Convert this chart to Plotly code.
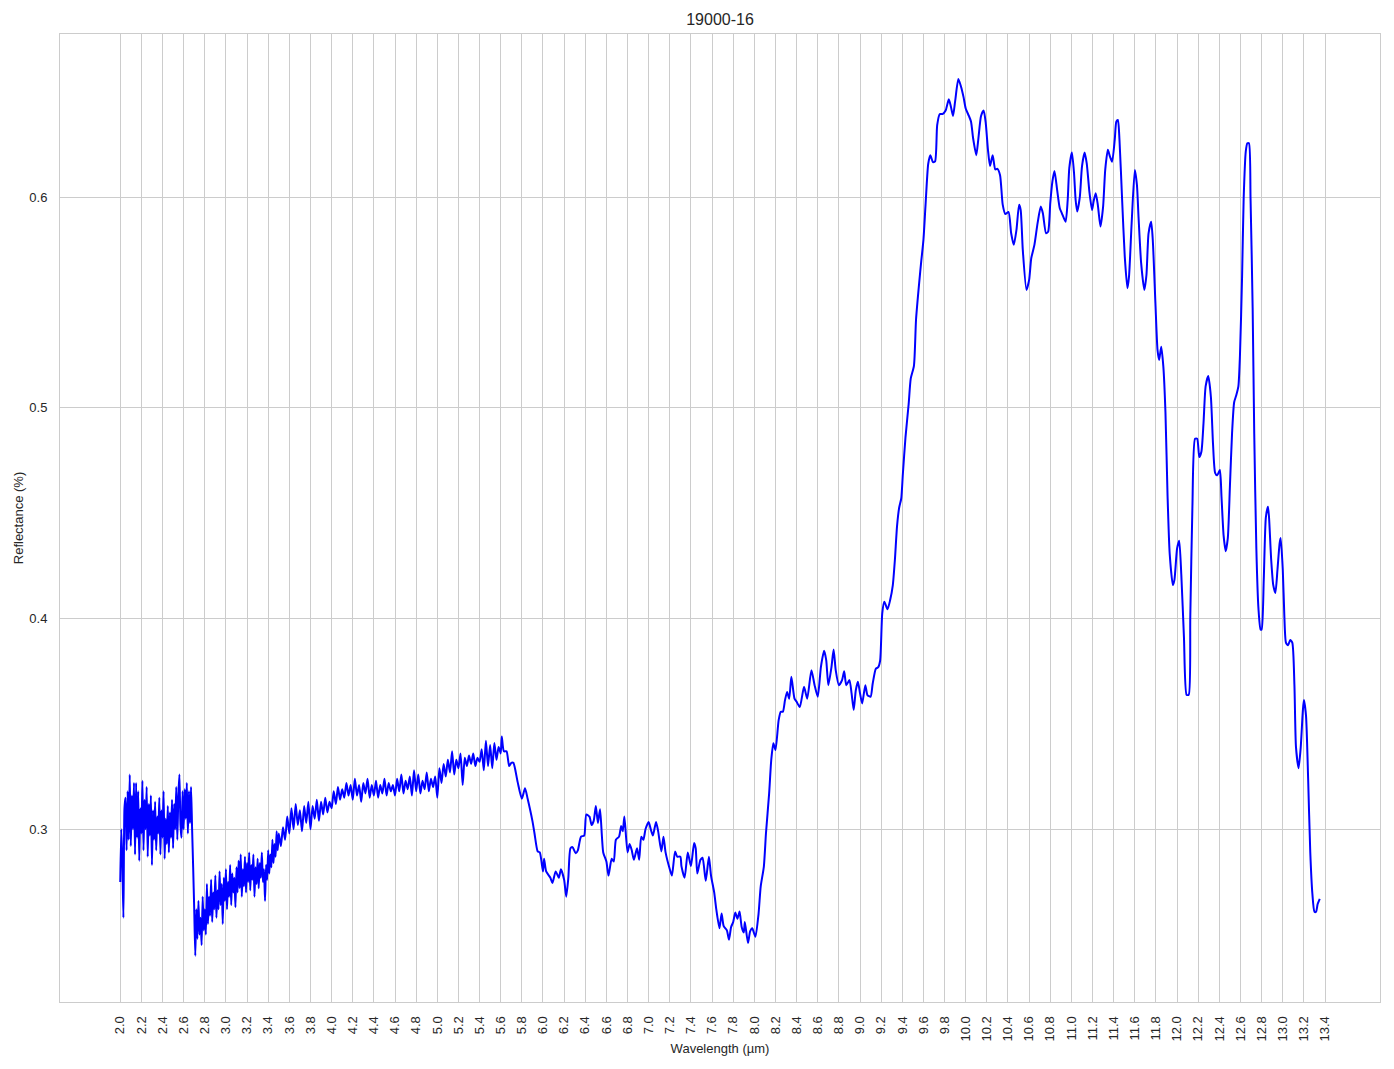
import numpy as np
import plotly.graph_objects as go

# --- noisy part, evenly sampled segments (start, step, values) ---
seg1_start, seg1_step = 2.00, 0.01
seg1_vals = [
    0.275, 0.300, 0.285, 0.258, 0.310, 0.315, 0.290, 0.318, 0.295, 0.326,
    0.292, 0.316, 0.300, 0.322, 0.288, 0.322, 0.296, 0.318, 0.285, 0.310,
    0.298, 0.323, 0.290, 0.314, 0.300, 0.320, 0.287, 0.312, 0.297, 0.316,
    0.283, 0.309, 0.295, 0.313, 0.290, 0.306, 0.298, 0.315, 0.288, 0.309,
    0.296, 0.318, 0.286, 0.305, 0.293, 0.311, 0.289, 0.308, 0.296, 0.314,
    0.291, 0.312, 0.300, 0.320, 0.295, 0.316, 0.326, 0.302, 0.296, 0.318,
    0.300, 0.319, 0.305, 0.322, 0.298, 0.318, 0.303, 0.320,
]
seg2_start, seg2_step = 2.68, 0.01
seg2_vals = [
    0.300, 0.282, 0.262, 0.240, 0.262, 0.248, 0.266, 0.250, 0.258, 0.245,
    0.268, 0.252, 0.262, 0.250, 0.274, 0.255, 0.268, 0.259, 0.276, 0.256,
    0.270, 0.262, 0.278, 0.258, 0.271, 0.262, 0.280, 0.264, 0.274, 0.255,
    0.277, 0.266, 0.281, 0.262, 0.275, 0.268, 0.283, 0.264, 0.279, 0.270,
    0.277, 0.263, 0.282, 0.270, 0.285, 0.272, 0.288, 0.268, 0.281, 0.273,
    0.287, 0.270, 0.284, 0.275, 0.289, 0.271, 0.283, 0.276, 0.288, 0.268,
    0.282, 0.274, 0.286, 0.272, 0.284, 0.277, 0.289, 0.275, 0.281, 0.266,
    0.283, 0.276, 0.290, 0.279, 0.288, 0.282, 0.295, 0.284, 0.293, 0.287,
    0.299, 0.290, 0.298,
]
seg3_start, seg3_step = 3.52, 0.02
seg3_vals = [
    0.292, 0.301, 0.295, 0.306, 0.298, 0.310, 0.300, 0.312, 0.302, 0.309,
    0.299, 0.311, 0.303, 0.313, 0.300, 0.311, 0.305, 0.314, 0.304, 0.313,
    0.307, 0.315, 0.308, 0.313, 0.310, 0.318, 0.312, 0.320, 0.314, 0.319,
    0.315, 0.322, 0.316, 0.321, 0.314, 0.324, 0.316, 0.321, 0.313, 0.322,
    0.317, 0.324, 0.315, 0.321, 0.316, 0.323, 0.315, 0.321, 0.317, 0.324,
    0.316, 0.322, 0.318, 0.321, 0.316, 0.324, 0.318, 0.326, 0.317, 0.323,
    0.319, 0.325, 0.316, 0.328, 0.318, 0.326, 0.317, 0.323, 0.319, 0.327,
    0.318, 0.324, 0.320, 0.325, 0.315, 0.329, 0.322, 0.331, 0.325, 0.333,
    0.327, 0.337, 0.326, 0.333, 0.329, 0.336, 0.321, 0.334, 0.330, 0.335,
    0.331, 0.336, 0.330, 0.334, 0.332, 0.338, 0.328, 0.342, 0.330, 0.340,
    0.329, 0.341, 0.333, 0.339, 0.336,
]

# --- smoother part, read point by point ---
wl_tail = [
    5.61, 5.63, 5.655, 5.68, 5.70, 5.72, 5.76, 5.80, 5.83, 5.855, 5.90, 5.92, 5.95, 5.97,
    6.00, 6.01, 6.03, 6.07, 6.09, 6.12, 6.15, 6.17, 6.20, 6.22, 6.24, 6.26, 6.28, 6.31,
    6.33, 6.36, 6.39, 6.41, 6.44, 6.46, 6.48, 6.50, 6.52, 6.54, 6.57, 6.60, 6.62, 6.65,
    6.67, 6.69, 6.72, 6.74, 6.755, 6.77, 6.80, 6.82, 6.84, 6.86, 6.89, 6.91, 6.93, 6.95,
    6.97, 7.00, 7.02, 7.04, 7.07, 7.09, 7.12, 7.14, 7.16, 7.20, 7.22, 7.25, 7.27, 7.30,
    7.31, 7.34, 7.37, 7.40, 7.43, 7.445, 7.46, 7.49, 7.51, 7.54, 7.57, 7.59, 7.62, 7.64,
    7.67, 7.69, 7.71, 7.74, 7.76, 7.78, 7.80, 7.82, 7.84, 7.86, 7.88, 7.90, 7.91, 7.94,
    7.96, 7.98, 8.01, 8.04, 8.06, 8.09, 8.11, 8.14, 8.16, 8.18, 8.20, 8.23, 8.25, 8.27,
    8.29, 8.31, 8.33, 8.35, 8.38, 8.40, 8.43, 8.47, 8.50, 8.54, 8.57, 8.60, 8.63, 8.66,
    8.68, 8.70, 8.73, 8.75, 8.77, 8.80, 8.83, 8.85, 8.87, 8.90, 8.92, 8.94, 8.96, 8.98,
    9.00, 9.02, 9.05, 9.07, 9.10, 9.12, 9.15, 9.17, 9.19, 9.21, 9.23, 9.26, 9.285, 9.31,
    9.33, 9.35, 9.37, 9.39, 9.405, 9.43, 9.46, 9.48, 9.51, 9.53, 9.56, 9.58, 9.60, 9.62,
    9.645, 9.665, 9.69, 9.71, 9.73, 9.755, 9.78, 9.81, 9.84, 9.86, 9.88, 9.90, 9.93, 9.955,
    9.98, 10.00, 10.03, 10.05, 10.07, 10.10, 10.12, 10.145, 10.17, 10.19, 10.21, 10.23,
    10.255, 10.28, 10.30, 10.325, 10.35, 10.375, 10.405, 10.43, 10.455, 10.48, 10.505,
    10.52, 10.54, 10.575, 10.60, 10.62, 10.65, 10.68, 10.71, 10.73, 10.76, 10.78, 10.80,
    10.82, 10.84, 10.865, 10.89, 10.91, 10.945, 10.965, 10.98, 11.005, 11.025, 11.04,
    11.055, 11.08, 11.10, 11.125, 11.145, 11.17, 11.195, 11.21, 11.23, 11.25, 11.275,
    11.30, 11.32, 11.345, 11.365, 11.385, 11.41, 11.425, 11.44, 11.455, 11.48, 11.505,
    11.53, 11.545, 11.57, 11.60, 11.62, 11.635, 11.66, 11.69, 11.71, 11.73, 11.755, 11.77,
    11.795, 11.815, 11.83, 11.85, 11.87, 11.89, 11.91, 11.93, 11.96, 11.975, 12.00, 12.02,
    12.04, 12.065, 12.09, 12.11, 12.125, 12.145, 12.17, 12.19, 12.21, 12.23, 12.25, 12.27,
    12.295, 12.32, 12.34, 12.36, 12.38, 12.405, 12.42, 12.44, 12.46, 12.48, 12.50, 12.52,
    12.54, 12.56, 12.58, 12.595, 12.615, 12.63, 12.65, 12.665, 12.68, 12.695, 12.715,
    12.73, 12.75, 12.77, 12.79, 12.80, 12.82, 12.84, 12.86, 12.87, 12.89, 12.91, 12.93,
    12.95, 12.97, 12.98, 13.00, 13.015, 13.03, 13.05, 13.07, 13.09, 13.11, 13.125, 13.15,
    13.17, 13.19, 13.20, 13.22, 13.24, 13.26, 13.28, 13.30, 13.315, 13.33, 13.35,
]
refl_tail = [
    0.344, 0.337, 0.337, 0.330, 0.3315, 0.3315, 0.3225, 0.3145, 0.3195, 0.3145, 0.304, 0.298, 0.2895, 0.289,
    0.280, 0.286, 0.280, 0.277, 0.2745, 0.280, 0.277, 0.281, 0.276, 0.268, 0.277, 0.291, 0.2915, 0.2886,
    0.290, 0.2965, 0.297, 0.307, 0.306, 0.302, 0.304, 0.311, 0.303, 0.3095, 0.289, 0.2847, 0.278, 0.286,
    0.2847, 0.295, 0.2965, 0.3015, 0.299, 0.306, 0.289, 0.293, 0.290, 0.2855, 0.291, 0.2855, 0.2965, 0.295,
    0.300, 0.3035, 0.300, 0.297, 0.3035, 0.299, 0.2895, 0.2965, 0.289, 0.281, 0.278, 0.2895, 0.287, 0.287,
    0.2825, 0.277, 0.289, 0.2825, 0.2935, 0.291, 0.279, 0.2855, 0.2865, 0.2755, 0.287, 0.278, 0.270, 0.262,
    0.253, 0.260, 0.254, 0.252, 0.2476, 0.2536, 0.256, 0.2605, 0.2575, 0.261, 0.2536, 0.251, 0.256, 0.246,
    0.2515, 0.253, 0.249, 0.260, 0.2728, 0.2823, 0.2981, 0.317, 0.333, 0.3408, 0.3376, 0.3518, 0.3558, 0.3558,
    0.3613, 0.3652, 0.362, 0.3724, 0.362, 0.3605, 0.358, 0.3676, 0.362, 0.3755, 0.3684, 0.3629, 0.3771, 0.3847,
    0.3803, 0.3684, 0.3771, 0.3853, 0.3755, 0.3684, 0.3708, 0.375, 0.3684, 0.3708, 0.3645, 0.3566, 0.366, 0.370,
    0.3645, 0.3597, 0.3684, 0.3637, 0.3629, 0.3692, 0.3763, 0.3768, 0.380, 0.4024, 0.408, 0.4044, 0.4088, 0.4158,
    0.428, 0.4438, 0.4526, 0.457, 0.4684, 0.486, 0.5018, 0.514, 0.520, 0.542, 0.5596, 0.570, 0.5798, 0.5965,
    0.6158, 0.620, 0.6167, 0.617, 0.6342, 0.6395, 0.6395, 0.6412, 0.6465, 0.643, 0.6386, 0.6456, 0.6561, 0.6526,
    0.6474, 0.6421, 0.6386, 0.636, 0.628, 0.620, 0.628, 0.6386, 0.6412, 0.635, 0.6228, 0.6149,
    0.620, 0.6132, 0.6135, 0.6105, 0.5965, 0.592, 0.593, 0.5829, 0.5774, 0.5845, 0.5964,
    0.594, 0.575, 0.556, 0.5608, 0.571, 0.5774, 0.5877, 0.5956, 0.5924, 0.5829, 0.5837, 0.5972,
    0.6074, 0.6125, 0.6035, 0.5948, 0.5924, 0.5884, 0.5987, 0.6138, 0.6212, 0.6114, 0.5987,
    0.5932, 0.6003, 0.6146, 0.6212, 0.6161, 0.6027, 0.594, 0.598, 0.6019, 0.5964, 0.5861,
    0.5956, 0.613, 0.6225, 0.6193, 0.6169, 0.6272, 0.6359, 0.6367, 0.6272, 0.5987, 0.5718,
    0.5568, 0.5623, 0.5877, 0.613, 0.6059, 0.5908, 0.5687, 0.556, 0.5631, 0.5829, 0.5884, 0.5797,
    0.5497, 0.5275, 0.5228, 0.5291, 0.5196, 0.4978, 0.4581, 0.4308, 0.4159, 0.4184, 0.4333, 0.437,
    0.4208, 0.3911, 0.3638, 0.3638, 0.401, 0.4531, 0.4854, 0.4854, 0.4767, 0.4792, 0.4928, 0.5102,
    0.5151, 0.5052, 0.4829, 0.4692, 0.468, 0.4705, 0.4581, 0.4395, 0.432, 0.4382, 0.463, 0.4878,
    0.5027, 0.506, 0.5102, 0.5251, 0.5623, 0.5995, 0.6218, 0.6256, 0.6256, 0.5995, 0.5474,
    0.4878, 0.4333, 0.4047, 0.3948, 0.3948, 0.4184, 0.4481, 0.4531, 0.4481, 0.4283, 0.4159, 0.4122,
    0.4233, 0.4357, 0.4382, 0.4233, 0.401, 0.3886, 0.3873, 0.3898, 0.3886, 0.3687, 0.339, 0.329,
    0.339, 0.3563, 0.3613, 0.3538, 0.3241, 0.2893, 0.2695, 0.2608, 0.2608, 0.2645, 0.2670,
]

x_ticks = [round(2.0 + 0.2 * i, 1) for i in range(58)]
x_tick_text = [f"{v:.1f}" for v in x_ticks]
y_ticks = [0.3, 0.4, 0.5, 0.6]
y_tick_text = ["0.3", "0.4", "0.5", "0.6"]


def seg_x(start, step, vals):
    return list(np.round(start + step * np.arange(len(vals)), 3))


wl = seg_x(seg1_start, seg1_step, seg1_vals) + seg_x(seg2_start, seg2_step, seg2_vals) \
    + seg_x(seg3_start, seg3_step, seg3_vals) + wl_tail
refl = seg1_vals + seg2_vals + seg3_vals + refl_tail

FONT = "Liberation Sans, Arial, sans-serif"
TXT = "#262626"
GRID = "#cccccc"

fig = go.Figure()
fig.add_trace(go.Scatter(
    x=wl, y=refl, mode="lines",
    line=dict(color="#0000ff", width=2, shape="spline", smoothing=0.6),
    showlegend=False, hoverinfo="x+y",
))

fig.update_layout(
    width=1394, height=1069, autosize=False,
    margin=dict(l=60, r=14, t=34, b=67),
    paper_bgcolor="white", plot_bgcolor="white",
    font=dict(family=FONT, color=TXT, size=13),
    title=dict(text="19000-16", x=0.5165, xanchor="center", y=0.9815, yanchor="middle",
               font=dict(family=FONT, size=16, color=TXT)),
)
fig.update_xaxes(
    range=[1.43, 13.92], tickmode="array", tickvals=x_ticks, ticktext=x_tick_text,
    tickangle=-90, tickfont=dict(family=FONT, size=13, color=TXT),
    showgrid=True, gridcolor=GRID, gridwidth=1, zeroline=False,
    showline=True, linecolor=GRID, linewidth=1, mirror=True,
    ticks="", ticklabelstandoff=8, automargin=False,
    title=dict(text="Wavelength (µm)", font=dict(family=FONT, size=13, color=TXT), standoff=3),
)
fig.update_yaxes(
    range=[0.218, 0.6775], tickmode="array", tickvals=y_ticks, ticktext=y_tick_text,
    tickfont=dict(family=FONT, size=13, color=TXT),
    showgrid=True, gridcolor=GRID, gridwidth=1, zeroline=False,
    showline=True, linecolor=GRID, linewidth=1, mirror=True,
    ticks="", ticklabelstandoff=9, automargin=False,
    title=dict(text="Reflectance (%)", font=dict(family=FONT, size=13, color=TXT), standoff=2),
)

fig.write_html("out.html", config={"displayModeBar": False},
               post_script="document.body.style.margin='0';document.body.style.padding='0';")
